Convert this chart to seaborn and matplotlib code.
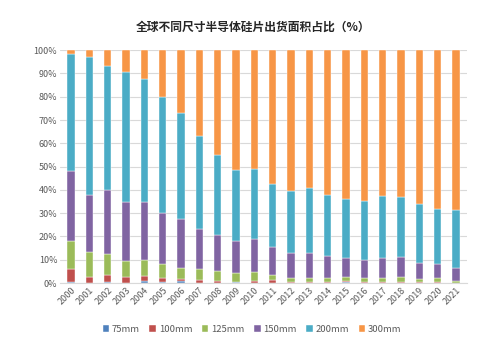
import matplotlib
matplotlib.use("Agg")
import matplotlib.pyplot as plt
import seaborn as sns
import numpy as np

years = [str(y) for y in range(2000, 2022)]
mm75  = [0.6, 0.2, 0.4, 0.2, 0.9, 0.3, 0.7, 0.2, 0.2, 0.4, 0.2, 0.1, 0.1, 0.1, 0.1, 0.3, 0.1, 0.1, 0.1, 0.1, 0.1, 0.0]
mm100 = [5.6, 2.5, 3.2, 2.5, 2.3, 1.9, 1.2, 1.2, 0.7, 0.1, 0.8, 1.0, 0.5, 0.4, 0.4, 0.4, 0.4, 0.4, 0.4, 0.4, 0.4, 0.2]
mm125 = [11.7, 10.6, 8.7, 6.9, 6.8, 5.8, 4.7, 4.6, 4.4, 3.9, 3.9, 2.2, 1.6, 1.7, 1.7, 1.9, 1.7, 1.7, 1.9, 1.2, 1.5, 0.7]
mm150 = [30.0, 24.4, 27.6, 25.1, 24.7, 22.0, 20.7, 17.4, 15.5, 13.5, 14.2, 12.2, 10.6, 10.9, 9.6, 8.3, 7.8, 8.4, 8.6, 7.1, 6.3, 5.7]
mm200 = [50.4, 59.4, 53.2, 56.1, 52.8, 49.8, 45.7, 39.9, 34.2, 30.7, 30.0, 27.0, 26.9, 27.5, 25.8, 25.4, 25.3, 26.8, 26.0, 25.1, 23.4, 24.7]
mm300 = [1.7, 2.9, 6.9, 9.2, 12.5, 20.2, 27.0, 36.7, 45.0, 51.4, 50.9, 57.5, 60.3, 59.4, 62.4, 63.7, 64.7, 62.6, 63.0, 66.1, 68.3, 68.7]

series_names = ["75mm", "100mm", "125mm", "150mm", "200mm", "300mm"]
series_vals = [mm75, mm100, mm125, mm150, mm200, mm300]
colors = ["#4F81BD", "#C0504D", "#9BBB59", "#8064A2", "#4BACC6", "#F79646"]
title = "全球不同尺寸半导体硅片出货面积占比（%）"

sns.set_style("white")
plt.rcParams['font.family'] = ['Noto Sans CJK SC', 'DejaVu Sans']

fig = plt.figure(figsize=(4.81, 3.46), dpi=100)
ax = fig.add_axes([0.125, 0.182, 0.846, 0.673])

bottom = np.zeros(len(years))
for name, vals, c in zip(series_names, series_vals, colors):
    sns.barplot(x=years, y=vals, bottom=bottom, color=c, width=0.4, ax=ax,
                label=name, edgecolor="white", linewidth=0.3, saturation=1)
    bottom = bottom + np.array(vals)

ax.set_ylim(0, 100)
ax.set_xlim(-0.6, len(years) - 0.4)
ax.set_yticks(np.arange(0, 101, 10))
ax.set_yticklabels([f"{v}%" for v in range(0, 101, 10)])
ax.yaxis.grid(True, color="#D9D9D9", linewidth=0.8)
ax.set_axisbelow(True)
for s in ["top", "right", "left"]:
    ax.spines[s].set_visible(False)
ax.spines["bottom"].set_color("#D9D9D9")
ax.tick_params(axis="both", length=0, labelsize=6.5, labelcolor="#595959", pad=2)
plt.setp(ax.get_xticklabels(), rotation=45, ha="right", rotation_mode="anchor")
ax.set_xlabel("")
ax.set_ylabel("")

fig.text(0.526, 0.922, title, ha="center", va="center", fontsize=8.5,
         fontweight="bold", color="#262626")

handles, labels = ax.get_legend_handles_labels()
ax.legend(handles, labels, loc="center", bbox_to_anchor=(0.524, 0.049),
          bbox_transform=fig.transFigure, ncol=6, frameon=False,
          fontsize=6.8, handlelength=0.7, handleheight=0.7, handletextpad=0.3,
          columnspacing=1.0, labelcolor="#595959")

fig.savefig("out.png", dpi=100)
